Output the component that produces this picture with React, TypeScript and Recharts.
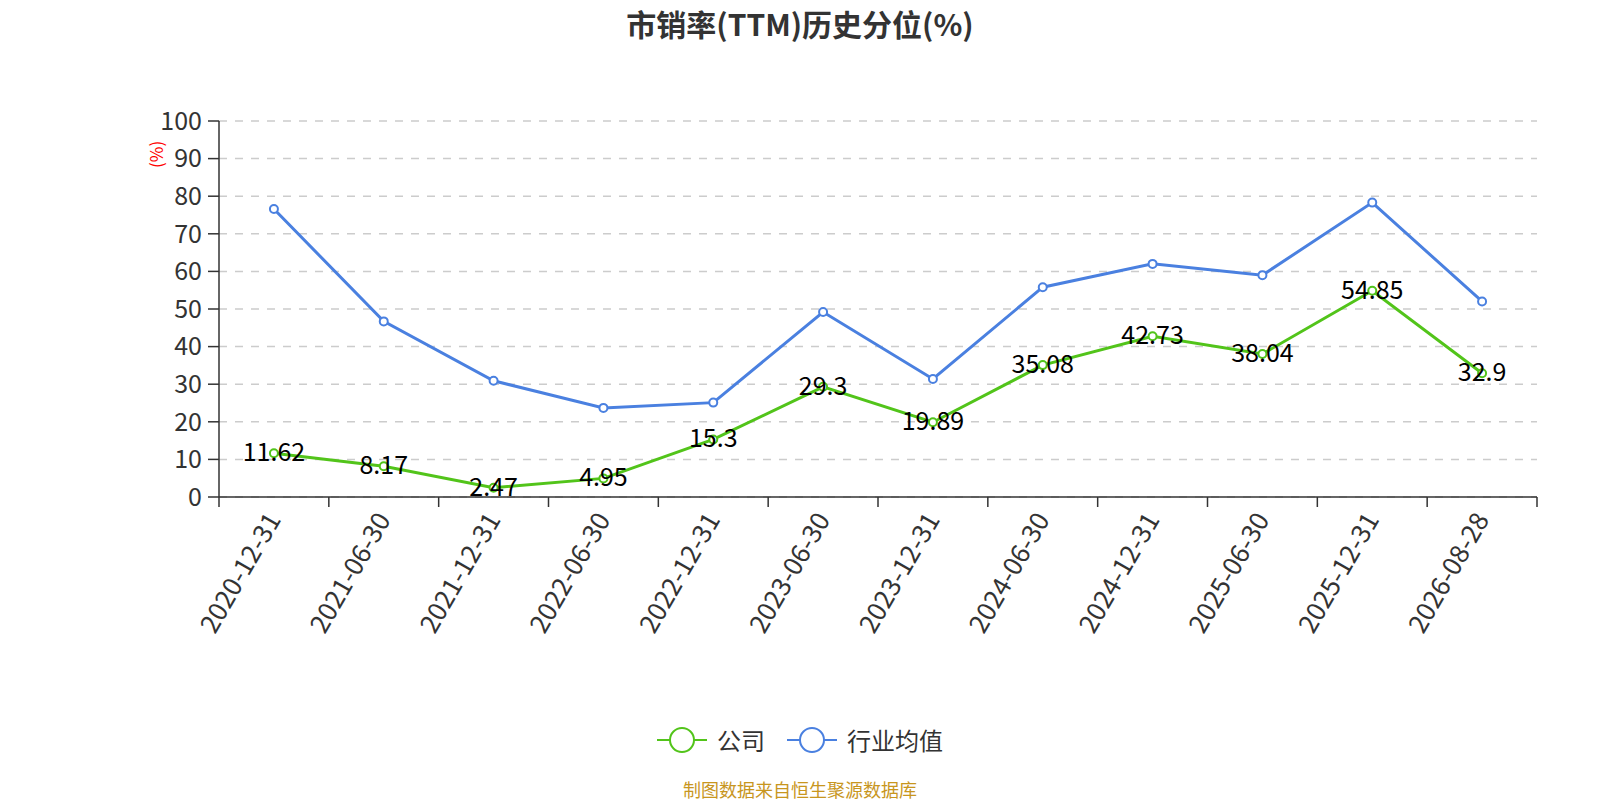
import { LineChart, Line, XAxis, YAxis, CartesianGrid, LabelList } from "recharts";

const dates = [
  "2020-12-31", "2021-06-30", "2021-12-31", "2022-06-30", "2022-12-31", "2023-06-30",
  "2023-12-31", "2024-06-30", "2024-12-31", "2025-06-30", "2025-12-31", "2026-08-28",
];
const company = [11.62, 8.17, 2.47, 4.95, 15.3, 29.3, 19.89, 35.08, 42.73, 38.04, 54.85, 32.9];
const industry = [76.6, 46.7, 30.9, 23.7, 25.1, 49.2, 31.4, 55.8, 62.0, 59.0, 78.3, 52.0];
const yTicks = [0, 10, 20, 30, 40, 50, 60, 70, 80, 90, 100];

const GREEN = "#52c41a";
const BLUE = "#4a80e0";
const FONT = "'Noto Sans CJK SC', 'Noto Sans', sans-serif";

// points sit in the middle of each category slot, tick marks on the slot edges
const data = dates.map((d, i) => ({ x: i + 0.5, date: d, company: company[i], industry: industry[i] }));
const xTicks: number[] = [];
for (let i = 0; i <= dates.length * 2; i++) xTicks.push(i / 2);

function DateTick(props: any) {
  const { x, y, payload } = props;
  const v = payload.value;
  if (Number.isInteger(v)) {
    // slot edge: only a tick mark
    return <line x1={x} y1={y - 10} x2={x} y2={y} stroke="#333" strokeWidth={1.5} />;
  }
  const label = dates[Math.floor(v)] ?? "";
  return (
    <g transform={`translate(${x},${y + 8})`}>
      <text textAnchor="end" transform="rotate(-60)" dy={9} fill="#333" fontSize={26} fontFamily={FONT}>
        {label}
      </text>
    </g>
  );
}

function LegendItem({ color, text }: { color: string; text: string }) {
  return (
    <div style={{ display: "flex", alignItems: "center", marginRight: 22 }}>
      <svg width={50} height={28}>
        <line x1={0} y1={14} x2={50} y2={14} stroke={color} strokeWidth={2} />
        <circle cx={25} cy={14} r={12} fill="#fff" stroke={color} strokeWidth={2} />
      </svg>
      <span style={{ fontSize: 24, color: "#333", marginLeft: 10 }}>{text}</span>
    </div>
  );
}

export default function App() {
  return (
    <div style={{ position: "absolute", left: 0, top: 0, width: 1600, height: 800, background: "#fff", fontFamily: FONT }}>
      <div style={{ position: "absolute", top: 1, left: 0, width: 1600, textAlign: "center", fontSize: 30, fontWeight: 700, color: "#333" }}>
        市销率(TTM)历史分位(%)
      </div>
      <LineChart width={1600} height={800} data={data} margin={{ top: 121, right: 63, bottom: 153, left: 0 }}>
        <CartesianGrid horizontal vertical={false} stroke="#ccc" strokeWidth={1.5} strokeDasharray="8 8" />
        <XAxis
          dataKey="x"
          type="number"
          domain={[0, dates.length]}
          ticks={xTicks}
          interval={0}
          tick={<DateTick />}
          tickLine={false}
          tickSize={10}
          tickMargin={0}
          stroke="#333"
          strokeWidth={1.5}
          height={150}
        />
        <YAxis
          domain={[0, 100]}
          ticks={yTicks}
          interval={0}
          width={219}
          stroke="#333"
          strokeWidth={1.5}
          tickSize={11}
          tickMargin={6}
          tick={{ fill: "#333", fontSize: 25, fontFamily: FONT }}
          label={{ value: "(%)", angle: -90, position: "insideTopLeft", dx: 146, dy: 42, fill: "red", fontSize: 17 }}
        />
        <Line
          dataKey="industry"
          stroke={BLUE}
          strokeWidth={3}
          dot={{ r: 4, fill: "#fff", stroke: BLUE, strokeWidth: 2 }}
          isAnimationActive={false}
        />
        <Line
          dataKey="company"
          stroke={GREEN}
          strokeWidth={3}
          dot={{ r: 4, fill: "#fff", stroke: GREEN, strokeWidth: 2 }}
          isAnimationActive={false}
        >
          <LabelList dataKey="company" position="center" fill="#000" fontSize={25} fontFamily={FONT} dy={-1} />
        </Line>
      </LineChart>
      <div style={{ position: "absolute", top: 722, left: 0, width: 1622, display: "flex", justifyContent: "center" }}>
        <LegendItem color={GREEN} text="公司" />
        <LegendItem color={BLUE} text="行业均值" />
      </div>
      <div style={{ position: "absolute", top: 776, left: 0, width: 1600, textAlign: "center", fontSize: 18, color: "#c8961e" }}>
        制图数据来自恒生聚源数据库
      </div>
    </div>
  );
}
